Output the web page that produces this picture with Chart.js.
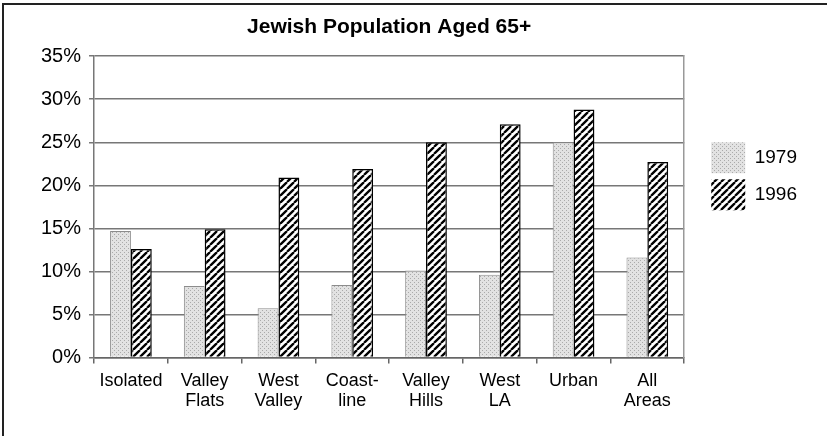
<!DOCTYPE html>
<html>
<head>
<meta charset="utf-8">
<script src="https://cdn.jsdelivr.net/npm/chart.js@4"></script>
<style>
  body { margin: 0; background: #fff; }
  #wrap { position: relative; width: 827px; height: 436px; }
  #frame { position: absolute; left: 2px; top: 3px; right: 0; bottom: 0; border-top: 2px solid #222; border-left: 2px solid #222; }
  canvas { position: absolute; left: 0; top: 0; }
</style>
</head>
<body>
<div id="wrap">
  <div id="frame"></div>
  <canvas id="chart" width="827" height="436"></canvas>
</div>
<script>
// data
var areas = ["Isolated", ["Valley", "Flats"], ["West", "Valley"], ["Coast-", "line"], ["Valley", "Hills"], ["West", "LA"], "Urban", ["All", "Areas"]];
var pct1979 = [14.7, 8.3, 5.7, 8.4, 10.1, 9.6, 25.0, 11.6];
var pct1996 = [12.6, 14.9, 20.9, 21.9, 25.0, 27.1, 28.8, 22.7];
var yMax = 35;
var yStep = 5;

var fam = "'Liberation Sans', Arial, sans-serif";

// fill patterns
function dotPattern() {
  var c = document.createElement("canvas");
  c.width = 4; c.height = 4;
  var g = c.getContext("2d");
  g.fillStyle = "#e2e2e2";
  g.fillRect(0, 0, 4, 4);
  g.fillStyle = "#aaaaaa";
  g.fillRect(0, 0, 1, 1);
  g.fillRect(2, 2, 1, 1);
  return g.createPattern(c, "repeat");
}

function stripePattern() {
  var s = 7;
  var c = document.createElement("canvas");
  c.width = s; c.height = s;
  var g = c.getContext("2d");
  g.fillStyle = "#fff";
  g.fillRect(0, 0, s, s);
  g.strokeStyle = "#000";
  g.lineWidth = 2.3;
  g.beginPath();
  for (var k = -1; k <= 1; k++) {
    g.moveTo(k * s, s);
    g.lineTo(k * s + s, 0);
  }
  g.stroke();
  return g.createPattern(c, "repeat");
}

// nudge the legend right of the plot frame
var legendShift = {
  id: "legendShift",
  afterLayout: function(chart) {
    chart.legend.left += 21;
    chart.legend.right += 21;
    chart.legend.top += 80;
    chart.legend.bottom += 80;
  }
};

var ctx = document.getElementById("chart").getContext("2d");
var chart = new Chart(ctx, {
  type: "bar",
  data: {
    labels: areas,
    datasets: [{
      label: "1979",
      data: pct1979,
      backgroundColor: dotPattern(),
      borderColor: "#8c8c8c",
      borderWidth: 1
    }, {
      label: "1996",
      data: pct1996,
      backgroundColor: stripePattern(),
      borderColor: "#000",
      borderWidth: 1.5
    }]
  },
  options: {
    responsive: false,
    animation: false,
    categoryPercentage: 0.565,
    barPercentage: 1,
    layout: { padding: { left: 33, right: 41, top: 0, bottom: 17 } },
    plugins: {
      title: {
        display: true,
        text: "Jewish Population Aged 65+",
        fullSize: false,
        color: "#000",
        font: { family: fam, size: 21, weight: "bold" },
        padding: { top: 15, bottom: 16 }
      },
      legend: {
        position: "right",
        align: "start",
        fullSize: false,
        labels: {
          boxWidth: 34,
          boxHeight: 31,
          padding: 6,
          color: "#000",
          font: { family: fam, size: 19 },
          generateLabels: function(chart) {
            var items = Chart.defaults.plugins.legend.labels.generateLabels(chart);
            items.forEach(function(it) { it.lineWidth = 0; });
            return items;
          }
        }
      },
      tooltip: { enabled: false }
    },
    scales: {
      x: {
        grid: { drawOnChartArea: false, tickLength: 6, color: "#666", lineWidth: 1.5 },
        border: { color: "#666", width: 1.5 },
        ticks: { color: "#000", font: { family: fam, size: 18, lineHeight: 1.1 }, padding: 8, maxRotation: 0, autoSkip: false }
      },
      y: {
        min: 0,
        max: yMax,
        ticks: {
          stepSize: yStep,
          color: "#000",
          font: { family: fam, size: 20 },
          padding: 8,
          callback: function(v) { return v + "%"; }
        },
        grid: { color: "#777", lineWidth: 1.5, tickLength: 5 },
        border: { color: "#777", width: 1.5 }
      },
      yRight: {
        position: "right",
        min: 0,
        max: yMax,
        ticks: { display: false },
        grid: { drawOnChartArea: false, drawTicks: false },
        border: { color: "#999", width: 1.5 }
      }
    }
  },
  plugins: [legendShift]
});
</script>
</body>
</html>
